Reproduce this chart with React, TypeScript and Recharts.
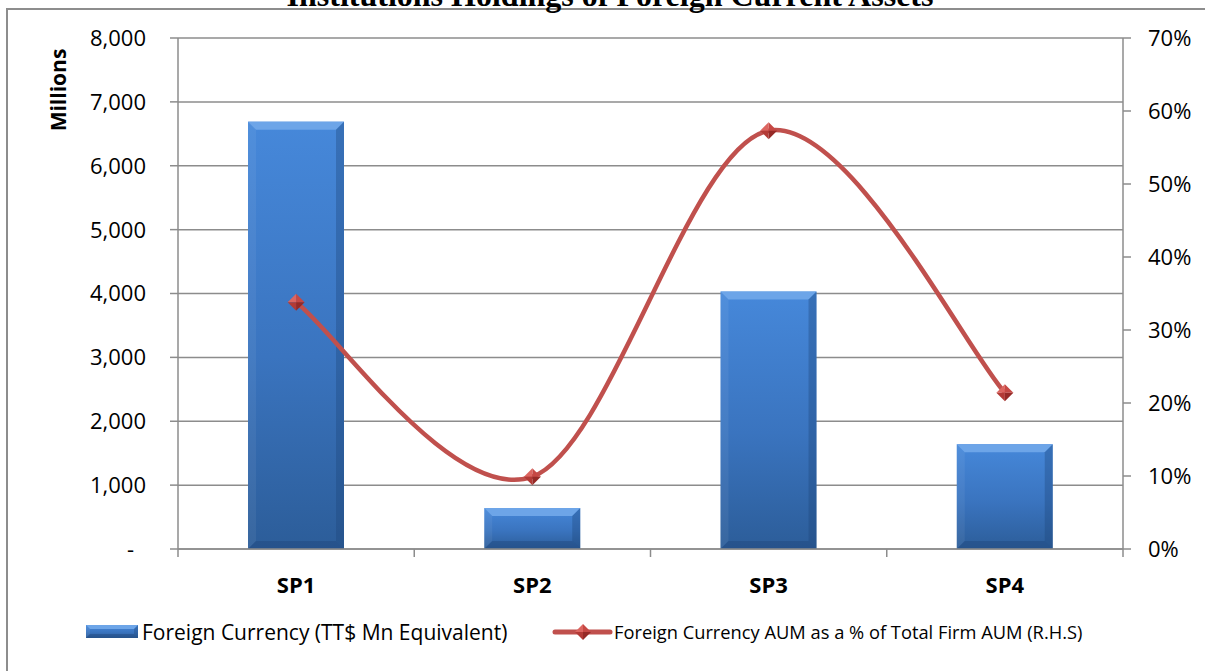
import React from "react";
import { ComposedChart, Bar, Line, XAxis, YAxis, CartesianGrid, Legend } from "recharts";

const categories = ["SP1", "SP2", "SP3", "SP4"];
const foreignCurrencyMn = [6690, 640, 4030, 1640];
const aumSharePct = [33.8, 9.9, 57.3, 21.4];
const leftTicks = [0, 1000, 2000, 3000, 4000, 5000, 6000, 7000, 8000];
const rightTicks = [0, 10, 20, 30, 40, 50, 60, 70];

const data = categories.map((name, i) => ({
  name,
  fc: foreignCurrencyMn[i],
  pct: aumSharePct[i],
}));

const FONT = "'Open Sans', sans-serif";
const GRID = "#8c8c8c";
const RED = "#c0504d";

// Excel-style smoothed line (Catmull-Rom through every point)
function smoothCurve(context: any) {
  let pts: number[][] = [];
  return {
    areaStart() {},
    areaEnd() {},
    lineStart() {
      pts = [];
    },
    point(x: number, y: number) {
      pts.push([+x, +y]);
    },
    lineEnd() {
      if (!pts.length) return;
      context.moveTo(pts[0][0], pts[0][1]);
      for (let i = 0; i < pts.length - 1; i++) {
        const p0 = pts[Math.max(i - 1, 0)];
        const p1 = pts[i];
        const p2 = pts[i + 1];
        const p3 = pts[Math.min(i + 2, pts.length - 1)];
        context.bezierCurveTo(
          p1[0] + (p2[0] - p0[0]) / 6,
          p1[1] + (p2[1] - p0[1]) / 6,
          p2[0] - (p3[0] - p1[0]) / 6,
          p2[1] - (p3[1] - p1[1]) / 6,
          p2[0],
          p2[1]
        );
      }
    },
  };
}

const BevelRect = ({ x, y, width: w, height: h, b }: any) => {
  const e = Math.min(b, h / 2, w / 2);
  return (
    <g>
      <rect x={x} y={y} width={w} height={h} fill="url(#barFill)" />
      <polygon points={`${x},${y} ${x + w},${y} ${x + w - e},${y + e} ${x + e},${y + e}`} fill="#6da5e8" />
      <polygon points={`${x},${y} ${x + e},${y + e} ${x + e},${y + h - e} ${x},${y + h}`} fill="#ffffff" fillOpacity={0.06} />
      <polygon points={`${x + w},${y} ${x + w - e},${y + e} ${x + w - e},${y + h - e} ${x + w},${y + h}`} fill="#1d4478" fillOpacity={0.35} />
      <polygon points={`${x},${y + h} ${x + w},${y + h} ${x + w - e},${y + h - e} ${x + e},${y + h - e}`} fill="#1d4478" fillOpacity={0.4} />
    </g>
  );
};

const BarShape = (props: any) => {
  const { x, y, width, height } = props;
  if (!height || height <= 0) return null;
  return <BevelRect x={x} y={y} width={width} height={height} b={8} />;
};

const Diamond = ({ cx, cy, r = 8.5 }: any) => (
  <g>
    <polygon points={`${cx - r},${cy} ${cx},${cy - r} ${cx},${cy}`} fill="#dc6560" />
    <polygon points={`${cx},${cy - r} ${cx + r},${cy} ${cx},${cy}`} fill="#c64844" />
    <polygon points={`${cx - r},${cy} ${cx},${cy + r} ${cx},${cy}`} fill="#b33a36" />
    <polygon points={`${cx + r},${cy} ${cx},${cy + r} ${cx},${cy}`} fill="#962a27" />
  </g>
);

const LineDot = (props: any) => {
  const { cx, cy, index } = props;
  if (cx == null || cy == null) return null;
  return <Diamond key={`d-${index}`} cx={cx} cy={cy} />;
};

const LeftTick = (props: any) => {
  const { x, y, payload } = props;
  const v = payload.value;
  return (
    <text x={v === 0 ? x - 12 : x} y={y} dy="0.36em" textAnchor="end" fontFamily={FONT} fontSize={22} fill="#000">
      {v === 0 ? "-" : v.toLocaleString("en-US")}
    </text>
  );
};

const RightTick = (props: any) => {
  const { x, y, payload } = props;
  return (
    <text x={x} y={y} dy="0.36em" textAnchor="start" fontFamily={FONT} fontSize={22} fill="#000">
      {`${payload.value}%`}
    </text>
  );
};

// category labels, plus the tick marks Excel puts on band boundaries
const CategoryTick = (props: any) => {
  const { x, y, payload, index, visibleTicksCount } = props;
  const half = payload.offset || 118;
  const axisY = y - 28;
  return (
    <g>
      <line x1={x - half} x2={x - half} y1={axisY} y2={axisY + 8} stroke={GRID} strokeWidth={1.5} />
      {index === visibleTicksCount - 1 && (
        <line x1={x + half} x2={x + half} y1={axisY} y2={axisY + 8} stroke={GRID} strokeWidth={1.5} />
      )}
      <text x={x} y={y} dy="0.71em" textAnchor="middle" fontFamily={FONT} fontSize={22} fontWeight="bold" fill="#000">
        {payload.value}
      </text>
    </g>
  );
};

const MillionsLabel = (props: any) => {
  const vb = props.viewBox || { x: 0, y: 38 };
  const cx = vb.x + 58;
  const cy = vb.y + 52;
  return (
    <text x={cx} y={cy} transform={`rotate(-90 ${cx} ${cy})`} textAnchor="middle" dy="0.36em" fontFamily={FONT} fontSize={21} fontWeight="bold" fill="#000">
      Millions
    </text>
  );
};

const LegendContent = () => (
  <div style={{ position: "relative", height: 40, fontFamily: FONT, color: "#000" }}>
    <svg width={1205} height={40} style={{ position: "absolute", left: 0, top: 0 }}>
      <BevelRect x={86} y={13} width={52} height={13} b={4} />
      <line x1={555} x2={610} y1={20} y2={20} stroke={RED} strokeWidth={5} strokeLinecap="round" />
      <Diamond cx={583} cy={20} r={8} />
      <text x={142} y={20} dy="0.36em" fontFamily={FONT} fontSize={21}>
        Foreign Currency (TT$ Mn Equivalent)
      </text>
      <text x={614} y={20} dy="0.36em" fontFamily={FONT} fontSize={18.3}>
        Foreign Currency AUM as a % of Total Firm AUM (R.H.S)
      </text>
    </svg>
  </div>
);

export default function App() {
  return (
    <div style={{ position: "absolute", left: 0, top: 0, width: 1205, height: 671, overflow: "hidden", background: "#fff" }}>
      <div
        style={{
          position: "absolute",
          left: 6,
          top: 8,
          width: 1300,
          height: 800,
          border: "2px solid #8d8d8d",
        }}
      />
      <svg width={1205} height={20} style={{ position: "absolute", left: 0, top: 0 }}>
        <text x={610} y={6} textAnchor="middle" fontFamily="'Liberation Serif', 'Times New Roman', serif" fontWeight="bold" fontSize={32} fill="#000">
          Institutions Holdings of Foreign Current Assets
        </text>
      </svg>
      <div style={{ position: "absolute", left: 0, top: 0 }}>
        <ComposedChart
          width={1205}
          height={671}
          data={data}
          margin={{ top: 38, right: 0, bottom: 19, left: 0 }}
          barCategoryGap="30%"
        >
          <defs>
            <linearGradient id="barFill" x1="0" y1="0" x2="0" y2="1">
              <stop offset="0%" stopColor="#4688da" />
              <stop offset="55%" stopColor="#3a74bf" />
              <stop offset="100%" stopColor="#2c5d99" />
            </linearGradient>
          </defs>
          <CartesianGrid yAxisId="left" vertical={false} stroke={GRID} strokeWidth={1.5} />
          <XAxis
            dataKey="name"
            height={63}
            axisLine={{ stroke: GRID, strokeWidth: 1.5 }}
            tickLine={false}
            tickSize={8}
            tickMargin={20}
            tick={<CategoryTick />}
            interval={0}
          />
          <YAxis
            yAxisId="left"
            width={178}
            domain={[0, 8000]}
            ticks={leftTicks}
            interval={0}
            axisLine={{ stroke: GRID, strokeWidth: 1.5 }}
            tickLine={{ stroke: GRID, strokeWidth: 1.5 }}
            tickSize={8}
            tickMargin={24}
            tick={<LeftTick />}
            label={<MillionsLabel />}
          />
          <YAxis
            yAxisId="right"
            orientation="right"
            width={82}
            domain={[0, 70]}
            ticks={rightTicks}
            interval={0}
            axisLine={{ stroke: GRID, strokeWidth: 1.5 }}
            tickLine={{ stroke: GRID, strokeWidth: 1.5 }}
            tickSize={8}
            tickMargin={17}
            tick={<RightTick />}
          />
          <Bar yAxisId="left" dataKey="fc" barSize={96} shape={<BarShape />} isAnimationActive={false} />
          <Line
            yAxisId="right"
            dataKey="pct"
            type={smoothCurve as any}
            stroke={RED}
            strokeWidth={4.5}
            dot={<LineDot />}
            activeDot={false}
            isAnimationActive={false}
          />
          <Legend
            verticalAlign="bottom"
            height={40}
            wrapperStyle={{ left: 0, width: 1205 }}
            content={<LegendContent />}
          />
        </ComposedChart>
      </div>
    </div>
  );
}
